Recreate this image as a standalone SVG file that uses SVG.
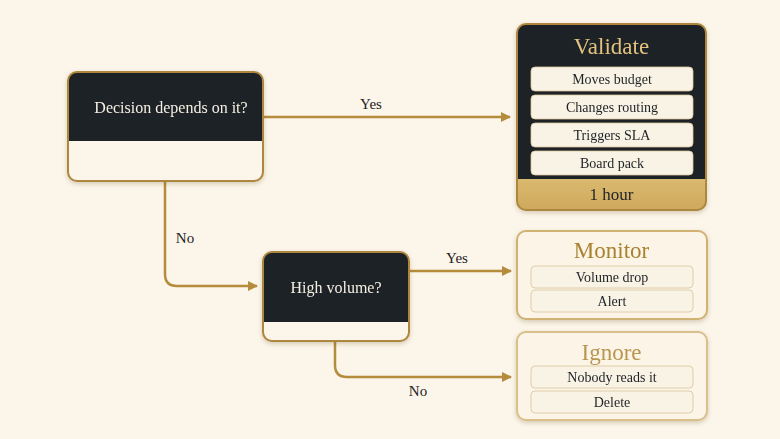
<svg xmlns="http://www.w3.org/2000/svg" width="780" height="439" viewBox="0 0 780 439">
<style>
.bg{fill:#fbf5ea}
.dark{fill:#1e2225}
.frame{fill:none;stroke:#ad873c;stroke-width:2}
.txt{font-family:"Liberation Serif","Times New Roman",serif;text-anchor:middle}
.q{fill:#f4efe4;font-size:16px}
.ttl{font-size:23px}
.item{fill:#f9f3e6;stroke:#d9c49a;stroke-width:0.8}
.itxt{fill:#1e2225;font-size:14px}
.lbl{fill:#1e2225;font-size:15px}
.conn{fill:none;stroke:#b58b3c;stroke-width:2.5}
</style>
<defs>
<marker id="arr" markerWidth="10" markerHeight="10" refX="9" refY="5" orient="auto" markerUnits="userSpaceOnUse">
<path d="M0,0 L10,5 L0,10 Z" fill="#b58b3c"/>
</marker>
<linearGradient id="gold" x1="0" y1="0" x2="0" y2="1">
<stop offset="0" stop-color="#d9b96f"/>
<stop offset="1" stop-color="#cfa95d"/>
</linearGradient>
<filter id="sh" x="-10%" y="-10%" width="120%" height="130%">
<feDropShadow dx="0" dy="2" stdDeviation="2" flood-color="#6b5120" flood-opacity="0.25"/>
</filter>
<clipPath id="c1"><rect x="68" y="72" width="195" height="109" rx="9"/></clipPath>
<clipPath id="c2"><rect x="263" y="252" width="146" height="89" rx="9"/></clipPath>
<clipPath id="c3"><rect x="517" y="24" width="189" height="186" rx="9"/></clipPath>
</defs>
<rect class="bg" x="0" y="0" width="780" height="439"/>

<g id="connectors">
<path class="conn" d="M263,117 H510" marker-end="url(#arr)"/>
<path class="conn" d="M165,181 V274 Q165,286 177,286 H257" marker-end="url(#arr)"/>
<path class="conn" d="M409,271 H511" marker-end="url(#arr)"/>
<path class="conn" d="M335,341 V365 Q335,377 347,377 H511" marker-end="url(#arr)"/>
<text class="txt lbl" x="371" y="109">Yes</text>
<text class="txt lbl" x="185" y="243">No</text>
<text class="txt lbl" x="457" y="263">Yes</text>
<text class="txt lbl" x="418" y="396">No</text>
</g>

<g id="decision" filter="url(#sh)">
<g clip-path="url(#c1)">
<rect x="68" y="72" width="195" height="109" fill="#fbf5ea"/>
<rect class="dark" x="68" y="72" width="195" height="69"/>
</g>
<rect class="frame" x="68" y="72" width="195" height="109" rx="9"/>
<text class="txt q" x="171" y="113">Decision depends on it?</text>
</g>

<g id="highvolume" filter="url(#sh)">
<g clip-path="url(#c2)">
<rect x="263" y="252" width="146" height="89" fill="#fbf5ea"/>
<rect class="dark" x="263" y="252" width="146" height="70"/>
</g>
<rect class="frame" x="263" y="252" width="146" height="89" rx="9"/>
<text class="txt q" x="336" y="293">High volume?</text>
</g>

<g id="validate" filter="url(#sh)">
<g clip-path="url(#c3)">
<rect class="dark" x="517" y="24" width="189" height="186"/>
<rect x="517" y="179" width="189" height="31" fill="url(#gold)"/>
</g>
<rect class="frame" x="517" y="24" width="189" height="186" rx="9"/>
<text class="txt ttl" x="611.5" y="54" fill="#e2c27f">Validate</text>
<rect class="item" x="531" y="67" width="162" height="24" rx="4"/>
<text class="txt itxt" x="612" y="84">Moves budget</text>
<rect class="item" x="531" y="95" width="162" height="24" rx="4"/>
<text class="txt itxt" x="612" y="112">Changes routing</text>
<rect class="item" x="531" y="123" width="162" height="24" rx="4"/>
<text class="txt itxt" x="612" y="140">Triggers SLA</text>
<rect class="item" x="531" y="151" width="162" height="24" rx="4"/>
<text class="txt itxt" x="612" y="168">Board pack</text>
<text class="txt" x="611.5" y="200" font-size="17" fill="#1e2225">1 hour</text>
</g>

<g id="monitor" filter="url(#sh)">
<rect x="517" y="231" width="190" height="88" rx="9" fill="#fbf4e7" stroke="#d1b273" stroke-width="2"/>
<text class="txt ttl" x="611.5" y="258" fill="#a8822f" font-size="22">Monitor</text>
<rect class="item" x="531" y="266" width="162" height="22" rx="4"/>
<text class="txt itxt" x="612" y="282">Volume drop</text>
<rect class="item" x="531" y="290" width="162" height="22" rx="4"/>
<text class="txt itxt" x="612" y="306">Alert</text>
</g>

<g id="ignore" filter="url(#sh)">
<rect x="517" y="332" width="190" height="88" rx="9" fill="#fbf4e7" stroke="#d9c08a" stroke-width="2"/>
<text class="txt ttl" x="611.5" y="360" fill="#b8964f" font-size="22">Ignore</text>
<rect class="item" x="531" y="366" width="162" height="22" rx="4"/>
<text class="txt itxt" x="612" y="382">Nobody reads it</text>
<rect class="item" x="531" y="391" width="162" height="22" rx="4"/>
<text class="txt itxt" x="612" y="407">Delete</text>
</g>
</svg>
